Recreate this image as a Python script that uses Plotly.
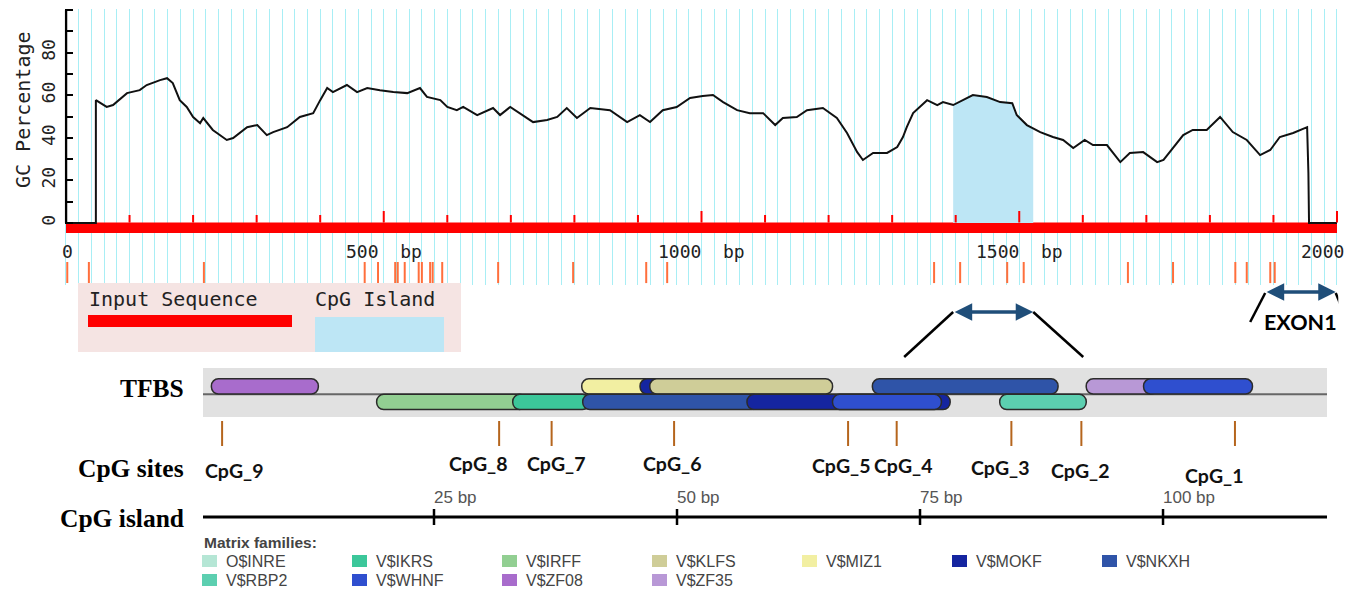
import plotly.graph_objects as go
import numpy as np

# ---------------- data ----------------
gc_bp = [0, 47, 47, 64, 74, 96, 116, 127, 148, 159, 168, 179, 190, 200, 211, 216, 231, 242, 253, 263,
         274, 285, 301, 316, 326, 348, 368, 389, 400, 411, 420, 442, 458, 474, 494, 515, 537, 557, 568, 589,
         600, 615, 625, 647, 672, 683, 699, 719, 735, 757, 773, 788, 804, 825, 856, 883, 903, 919, 939, 961,
         982, 1002, 1018, 1034, 1056, 1076, 1097, 1116, 1128, 1150, 1166, 1191, 1213, 1229, 1245, 1254, 1270,
         1292, 1308, 1317, 1323, 1333, 1355, 1371, 1380, 1396, 1411, 1427, 1449, 1470, 1489, 1496, 1512, 1533,
         1553, 1569, 1585, 1603, 1616, 1638, 1659, 1674, 1695, 1717, 1727, 1742, 1758, 1773, 1795, 1816, 1836,
         1858, 1879, 1895, 1910, 1931, 1950, 1953, 1955, 1956, 2000]
gc_val = [0, 0, 57.7, 54.5, 55.4, 61, 62.4, 64.8, 67.1, 68, 65.7, 57.7, 54.5, 49.8, 46.9, 49.3, 43.7, 41.3, 39, 39.9,
          42.3, 45, 46, 41.3, 42.7, 45, 49.8, 51.6, 57.7, 63.4, 61.5, 64.8, 61.5, 63.4, 62.4, 61.5, 61, 63.4, 59.2, 57.7,
          54.5, 53, 54.5, 50.7, 54, 50.7, 54.5, 50.7, 47.4, 48.4, 49.8, 54, 49.3, 54, 53, 47.4, 50.7, 47.4, 53, 54.5,
          58.7, 59.6, 60.1, 56.8, 53, 51.6, 51.6, 46, 49.3, 49.8, 53, 54, 49.3, 42.3, 33.3, 29.6, 32.9,
          32.9, 35.7, 40.4, 45, 51.6, 57.7, 55.4, 56.8, 55.4, 57.7, 60.1, 59.2, 56.8, 56.3, 50.7, 46, 42.7,
          40.4, 39, 35.2, 39, 36.6, 36.6, 28.6, 32.9, 33.3, 28.6, 29.6, 35.2, 41.3, 43.7, 43.7, 49.8, 42.7,
          39, 31.9, 34.3, 40.4, 42.3, 44.6, 45, 23.5, 0, 0]
seq_length = 2000
island_start, island_end = 1396, 1522
exon_start, exon_end = 1887, 1998
cpg_marks_bp = [2, 36, 217, 470, 491, 518, 522, 533, 555, 560, 573, 577, 592, 680, 798, 913, 946,
                1366, 1407, 1481, 1507, 1671, 1742, 1840, 1858, 1895, 1902]
x_tick_vals = [0, 500, 1000, 1500, 2000]
x_tick_text = ["0", "500\u00a0\u00a0bp", "1000\u00a0\u00a0bp", "1500\u00a0\u00a0bp", "2000"]
y_tick_vals = [0, 20, 40, 60, 80]
y_minor_vals = [10, 30, 50, 70, 90, 100]

tfbs_family = ["V$ZF08", "V$MIZ1", "V$MOKF", "V$KLFS", "V$NKXH", "V$ZF35", "V$WHNF",
               "V$IRFF", "V$IKRS", "V$NKXH", "V$MOKF", "V$WHNF", "V$RBP2"]
tfbs_start = [2.1, 40.2, 46.2, 47.2, 70.1, 92.1, 98.0, 19.1, 33.1, 40.3, 57.2, 66.0, 83.2]
tfbs_end = [13.1, 47.5, 49.0, 66.0, 89.2, 99.5, 109.2, 34.5, 41.0, 58.5, 78.1, 77.2, 92.1]
tfbs_row = [1, 1, 1, 1, 1, 1, 1, 0, 0, 0, 0, 0, 0]   # 1 = upper row, 0 = lower row

cpg_site_names = ["CpG_9", "CpG_8", "CpG_7", "CpG_6", "CpG_5", "CpG_4", "CpG_3", "CpG_2", "CpG_1"]
cpg_site_bp = [3.2, 31.7, 37.1, 49.7, 67.6, 72.6, 84.4, 91.6, 107.4]
island_ticks_bp = [25, 50, 75, 100]
island_tick_text = ["25 bp", "50 bp", "75 bp", "100 bp"]

matrix_families = ["O$INRE", "V$IKRS", "V$IRFF", "V$KLFS", "V$MIZ1", "V$MOKF", "V$NKXH",
                   "V$RBP2", "V$WHNF", "V$ZF08", "V$ZF35"]

# ---------------- styles ----------------
family_color = {
    "O$INRE": "#b5e6d5", "V$IKRS": "#3cc79a", "V$IRFF": "#92cf92", "V$KLFS": "#cfcd98",
    "V$MIZ1": "#f2efa2", "V$MOKF": "#1525a0", "V$NKXH": "#2f54a8", "V$RBP2": "#5ccfb0",
    "V$WHNF": "#2f4fcf", "V$ZF08": "#a86ccc", "V$ZF35": "#b898d6",
}
label_dx = [12, -21, 4, -2, -7, 6, -11, -1, -21]
label_y = [470, 463, 463, 463, 465, 465, 467, 470, 475]

W, H = 1357, 590
def X(px):
    return px / W
def Y(py):
    return 1 - py / H

MONO = "DejaVu Sans Mono"
PXBP = 0.6355           # top track pixels per bp
X0 = 66                 # pixel of bp 0
xr = [-2, 2002]

fig = go.Figure()

# CpG island shading under the curve
inside = [(b, v) for b, v in zip(gc_bp, gc_val) if island_start < b < island_end]
fx = [island_start] + [b for b, _ in inside] + [island_end]
fy = [float(np.interp(island_start, gc_bp, gc_val))] + [v for _, v in inside] + \
     [float(np.interp(island_end, gc_bp, gc_val))]
fig.add_trace(go.Scatter(x=fx, y=fy, mode="lines", fill="tozeroy", fillcolor="#bde6f5",
                         line=dict(width=0), hoverinfo="skip", showlegend=False))
# GC curve
fig.add_trace(go.Scatter(x=gc_bp, y=gc_val, mode="lines", line=dict(color="#111111", width=2),
                         showlegend=False))
# CpG marks under the track
mx, my = [], []
for b in cpg_marks_bp:
    mx += [b, b, None]
    my += [-18.3, -28.2, None]
fig.add_trace(go.Scatter(x=mx, y=my, mode="lines", line=dict(color="#ff6f3c", width=2),
                         hoverinfo="skip", showlegend=False))

# TFBS bars
for fam, s, e, r in zip(tfbs_family, tfbs_start, tfbs_end, tfbs_row):
    fig.add_trace(go.Bar(x=[e - s], base=[s], y=[r], orientation="h", width=0.98,
                         marker=dict(color=family_color[fam], line=dict(color="#2b2b2b", width=1.5),
                                     cornerradius=7),
                         xaxis="x2", yaxis="y2", showlegend=False, name=fam))

# CpG site ticks
sx, sy = [], []
for b in cpg_site_bp:
    sx += [b, b, None]
    sy += [421, 446, None]
fig.add_trace(go.Scatter(x=sx, y=sy, mode="lines", line=dict(color="#b5651d", width=2),
                         xaxis="x2", yaxis="y3", hoverinfo="skip", showlegend=False))
# CpG island scale ticks
tx, ty = [], []
for b in island_ticks_bp:
    tx += [b, b, None]
    ty += [509, 525, None]
fig.add_trace(go.Scatter(x=tx, y=ty, mode="lines", line=dict(color="black", width=2.5),
                         xaxis="x2", yaxis="y3", hoverinfo="skip", showlegend=False))

shapes = []
# input sequence red bar + ticks
shapes.append(dict(type="rect", xref="x", yref="y", x0=0, x1=seq_length, y0=-4.7, y1=0.3,
                   fillcolor="#ff0000", line=dict(width=0), layer="between"))
for b in range(100, seq_length + 1, 100):
    top = 5.6 if b % 500 == 0 else 3.8
    shapes.append(dict(type="line", xref="x", yref="y", x0=b, x1=b, y0=0.3, y1=top,
                       line=dict(color="#ff0000", width=2)))
# y axis line
shapes.append(dict(type="line", xref="x", yref="y", x0=0, x1=0, y0=0, y1=100,
                   line=dict(color="black", width=2.5)))
# legend box
shapes.append(dict(type="rect", xref="paper", yref="paper", x0=X(78), x1=X(461), y0=Y(352), y1=Y(283),
                   fillcolor="#f5e4e3", line=dict(width=0)))
shapes.append(dict(type="rect", xref="paper", yref="paper", x0=X(88), x1=X(292), y0=Y(327), y1=Y(315),
                   fillcolor="#ff0000", line=dict(width=0)))
shapes.append(dict(type="rect", xref="paper", yref="paper", x0=X(315), x1=X(444), y0=Y(352), y1=Y(317),
                   fillcolor="#bde6f5", line=dict(width=0)))
# TFBS band + center line
shapes.append(dict(type="rect", xref="x2 domain", yref="y2 domain", x0=0, x1=1, y0=0, y1=1,
                   fillcolor="#e1e1e1", line=dict(width=0), layer="below"))
shapes.append(dict(type="line", xref="x2 domain", yref="y2", x0=0, x1=1, y0=0.5, y1=0.5,
                   line=dict(color="#666666", width=2), layer="below"))
# CpG island scale line
shapes.append(dict(type="line", xref="x2 domain", yref="y3", x0=0, x1=1, y0=517, y1=517,
                   line=dict(color="black", width=3.2)))
# zoom guide lines
for anchor_x, anchor_y, dx, dy in [(island_start, 312, -49, -45), (island_end, 312, 50, -45),
                                   (exon_start, 293, -15, -29), (exon_end, 293, 11, -27)]:
    shapes.append(dict(type="line", xref="x", xsizemode="pixel", xanchor=anchor_x, x0=0, x1=dx,
                       yref="paper", ysizemode="pixel", yanchor=Y(anchor_y), y0=0, y1=dy,
                       line=dict(color="black", width=2.5)))
# matrix family swatches
ann = []
for i, fam in enumerate(matrix_families):
    col = i if i < 7 else i - 7
    row_y = 561 if i < 7 else 580
    tx_px = 224 + 150 * col
    shapes.append(dict(type="rect", xref="paper", yref="paper", x0=X(tx_px - 22), x1=X(tx_px - 7),
                       y0=Y(row_y + 6), y1=Y(row_y - 6), fillcolor=family_color[fam], line=dict(width=0)))
    ann.append(dict(x=X(tx_px), y=Y(row_y), xref="paper", yref="paper", text=fam, showarrow=False,
                    xanchor="left", yanchor="middle",
                    font=dict(family="Liberation Sans", size=16, color="#444444")))
ann.append(dict(x=X(202), y=Y(542.5), xref="paper", yref="paper", text="<b>Matrix families:</b>",
                showarrow=False, xanchor="left", yanchor="middle",
                font=dict(family="Liberation Sans", size=15.5, color="#444444")))

# top axis labels
for v, t in zip(x_tick_vals, x_tick_text):
    if v == 0:
        ann.append(dict(x=v, y=Y(251), xref="x", yref="paper", text=t, showarrow=False,
                        xanchor="center", yanchor="middle", xshift=2, font=dict(family=MONO, size=18, color="#222")))
    elif v == seq_length:
        ann.append(dict(x=v, y=Y(251), xref="x", yref="paper", text=t, showarrow=False,
                        xanchor="right", yanchor="middle", xshift=9, font=dict(family=MONO, size=18, color="#222")))
    else:
        ann.append(dict(x=v, y=Y(251), xref="x", yref="paper", text=t, showarrow=False,
                        xanchor="center", yanchor="middle", font=dict(family=MONO, size=18, color="#222")))
ann.append(dict(x=X(23), y=Y(110), xref="paper", yref="paper", text="GC Percentage", textangle=-90,
                showarrow=False, xanchor="center", yanchor="middle", font=dict(family=MONO, size=20, color="#222")))
ann.append(dict(x=X(87), y=Y(299), xref="paper", yref="paper", text="Input Sequence", showarrow=False,
                xanchor="left", yanchor="middle", font=dict(family=MONO, size=20, color="#222")))
ann.append(dict(x=X(313), y=Y(299), xref="paper", yref="paper", text="CpG Island", showarrow=False,
                xanchor="left", yanchor="middle", font=dict(family=MONO, size=20, color="#222")))

# row titles
for txt, yy in [("TFBS", 388), ("CpG sites", 468), ("CpG island", 518)]:
    ann.append(dict(x=X(186), y=Y(yy), xref="paper", yref="paper", text="<b>%s</b>" % txt, showarrow=False,
                    xanchor="right", yanchor="middle",
                    font=dict(family="Liberation Serif", size=25.5, color="black")))
# CpG site labels
for name, b, dx, ly in zip(cpg_site_names, cpg_site_bp, label_dx, label_y):
    ann.append(dict(x=b, y=ly, xref="x2", yref="y3", text="<b>%s</b>" % name, showarrow=False,
                    xanchor="center", yanchor="middle", xshift=dx,
                    font=dict(family="Lato", size=19.5, color="#111")))
# CpG island scale labels
for b, t in zip(island_ticks_bp, island_tick_text):
    ann.append(dict(x=b, y=497, xref="x2", yref="y3", text=t, showarrow=False, xanchor="left",
                    yanchor="middle", xshift=-2, font=dict(family="Liberation Sans", size=17, color="#555")))
# double arrows
for s, e, yy in [(island_start, island_end, 312), (exon_start, exon_end, 292)]:
    ann.append(dict(x=e, y=Y(yy), xref="x", yref="paper", ax=s, ay=0, axref="x", ayref="pixel",
                    text="", showarrow=True, arrowside="end+start", arrowhead=2, arrowsize=1,
                    arrowwidth=3.5, arrowcolor="#1f4e79", standoff=0, startstandoff=0))
ann.append(dict(x=(exon_start + exon_end) / 2, y=Y(322), xref="x", yref="paper", text="<b>EXON1</b>",
                showarrow=False, xanchor="center", yanchor="middle",
                font=dict(family="Lato", size=21.5, color="black")))

fig.update_layout(
    width=W, height=H, margin=dict(l=0, r=0, t=0, b=0),
    paper_bgcolor="white", plot_bgcolor="rgba(0,0,0,0)",
    barmode="overlay", showlegend=False, hovermode=False,
    shapes=shapes, annotations=ann,
    xaxis=dict(domain=[X(X0 + xr[0] * PXBP), X(X0 + xr[1] * PXBP)], range=xr, anchor="y",
               showgrid=True, gridcolor="#a8eef5", gridwidth=1.2, tick0=0, dtick=20,
               showticklabels=False, zeroline=False, showline=False, ticks=""),
    yaxis=dict(domain=[Y(285), Y(9)], range=[-29.1, 100.5], anchor="x",
               showgrid=False, zeroline=False, showline=False,
               tickvals=y_tick_vals, ticks="inside", ticklen=8, tickwidth=2, tickcolor="black",
               tickangle=-90, ticklabelstandoff=5, tickfont=dict(family=MONO, size=18, color="#222"),
               minor=dict(tickvals=y_minor_vals, ticks="inside", ticklen=8, tickwidth=2, tickcolor="black")),
    xaxis2=dict(domain=[X(203), X(1327)], range=[1.235, 116.87], anchor="y2", visible=False),
    yaxis2=dict(domain=[Y(417), Y(368)], range=[-0.97, 2.19], anchor="x2", visible=False),
    yaxis3=dict(domain=[0, Y(420)], range=[590, 420], anchor="x2", visible=False),
)

fig.write_html("out.html", config={"displayModeBar": False},
               post_script="document.body.style.margin='0px';document.body.style.overflow='hidden';")
